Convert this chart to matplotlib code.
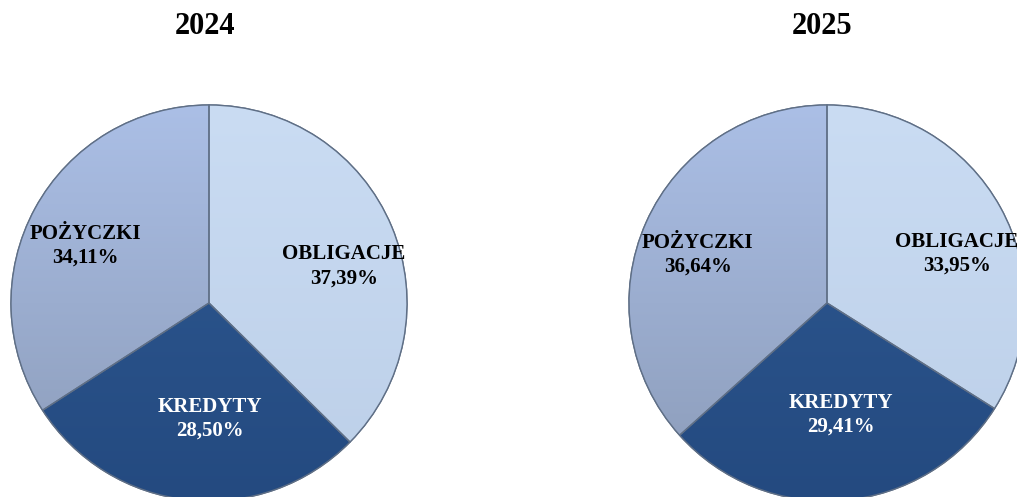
import numpy as np
import matplotlib
matplotlib.use("Agg")
import matplotlib.pyplot as plt
from matplotlib.colors import to_rgb
from matplotlib.patches import PathPatch

years = ["2024", "2025"]
categories = ["OBLIGACJE", "KREDYTY", "POŻYCZKI"]
values_2024 = [37.39, 28.50, 34.11]
values_2025 = [33.95, 29.41, 36.64]
series = [values_2024, values_2025]

# style: top/bottom gradient colours per category
grad_top = ["#cadcf3", "#2f5a93", "#abbfe6"]
grad_bot = ["#bccfe8", "#244a80", "#8b9bb8"]
text_colors = ["black", "white", "black"]
label_dist = [[0.70, 0.585, 0.70], [0.71, 0.555, 0.71]]
label_dx = [[0.035, 0.065, -0.01], [0.035, 0.025, -0.005]]
label_dy = [[-0.085, -0.005, -0.045], [-0.095, -0.01, -0.045]]

W, H = 1017, 497
fig = plt.figure(figsize=(W / 100, H / 100), dpi=100)
fig.patch.set_facecolor("white")

centers = [(209, 303), (827, 303)]
radius = 198
title_x = [205, 822]

serif = ["Liberation Serif", "DejaVu Serif"]

for k, vals in enumerate(series):
    cx, cy = centers[k]
    ax = fig.add_axes([(cx - radius) / W, (H - cy - radius) / H,
                       2 * radius / W, 2 * radius / H])
    wedges, _ = ax.pie(vals, startangle=90, counterclock=False, radius=1,
                       colors=grad_top,
                       wedgeprops=dict(edgecolor="#5f6f86", linewidth=1.0))
    ax.set_aspect("equal")
    ax.axis("off")
    for w in wedges:
        w.set_clip_on(False)
    # gradient fills
    for i, w in enumerate(wedges):
        t = np.array(to_rgb(grad_top[i]))
        b = np.array(to_rgb(grad_bot[i]))
        ys = np.linspace(0, 1, 256)[:, None]
        img = (t[None, :] * (1 - ys) + b[None, :] * ys)
        img = np.repeat(img[:, None, :], 2, axis=1)
        im = ax.imshow(img, extent=[-1, 1, -1, 1], origin="upper",
                       zorder=w.get_zorder() + 0.1, aspect="auto",
                       interpolation="bilinear")
        im.set_clip_path(w)
        ax.add_patch(PathPatch(w.get_path(), transform=w.get_transform(),
                               facecolor="none", edgecolor="#5f6f86",
                               linewidth=1.0, zorder=w.get_zorder() + 0.2,
                               clip_on=False))
    ax.set_xlim(-1, 1)
    ax.set_ylim(-1, 1)
    # labels
    for i, w in enumerate(wedges):
        ang = np.deg2rad((w.theta1 + w.theta2) / 2)
        d = label_dist[k][i]
        x = d * np.cos(ang) + label_dx[k][i]
        y = d * np.sin(ang) + label_dy[k][i]
        pct = f"{vals[i]:.2f}".replace(".", ",") + "%"
        ax.text(x, y, f"{categories[i]}\n{pct}", ha="center", va="center",
                fontsize=15, fontweight="bold", family=serif,
                color=text_colors[i], linespacing=1.25, zorder=10,
                clip_on=False)
    fig.text(title_x[k] / W, 1 - 27 / H, years[k], ha="center", va="center",
             fontsize=22, fontweight="bold", family=serif)

fig.savefig("out.png", dpi=100)
